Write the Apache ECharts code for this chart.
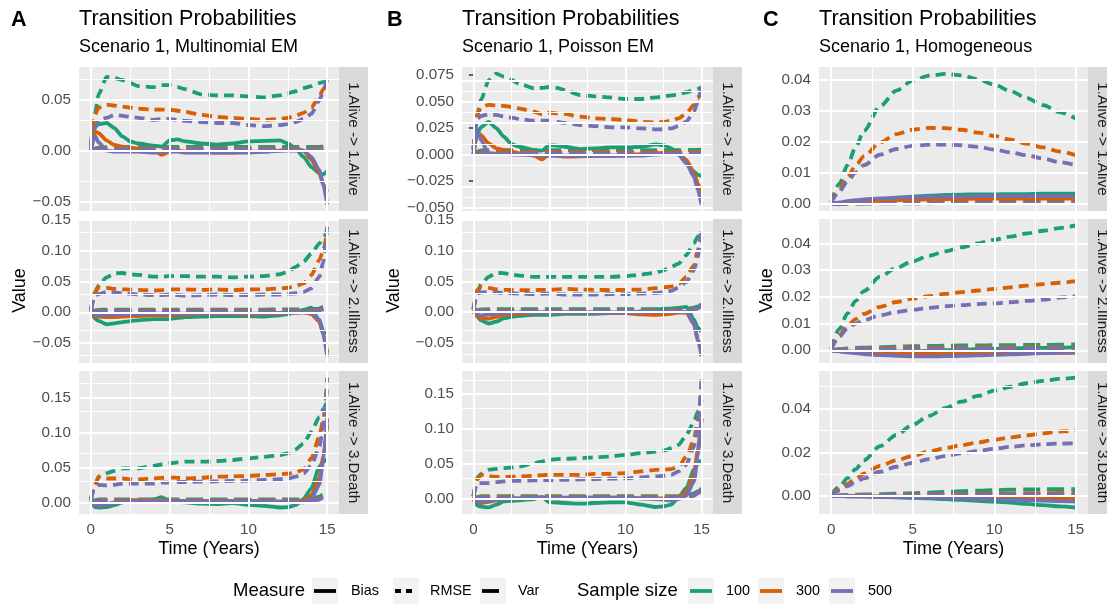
<!DOCTYPE html>
<html><head><meta charset="utf-8">
<script src="https://cdn.jsdelivr.net/npm/echarts@6/dist/echarts.min.js"></script>
<style>html,body{margin:0;padding:0;background:#fff}#c{width:1107px;height:605px}</style>
</head><body><div id="c"></div>
<script>
// ---------- categories / axes ----------
const tEM  = [0, 0.25, 0.5, 1, 1.5, 2, 2.5, 3, 4, 4.5, 5, 5.5, 6, 7, 8, 9, 10, 11, 12, 12.5, 13, 13.5, 14, 14.5, 14.75, 15];
const tHom = [0, 0.5, 1, 1.5, 2, 3, 4, 5, 6, 7, 8, 9, 10, 11, 12, 13, 14, 15];
const sampleSizes = ['100', '300', '500'];
const measures = ['Bias', 'RMSE', 'Var'];
const panelTags = ['A', 'B', 'C'];
const panelTitles = ['Transition Probabilities', 'Transition Probabilities', 'Transition Probabilities'];
const panelSubtitles = ['Scenario 1, Multinomial EM', 'Scenario 1, Poisson EM', 'Scenario 1, Homogeneous'];
const transitions = ['1.Alive -> 1.Alive', '1.Alive -> 2.Illness', '1.Alive -> 3.Death'];
const xTicks = [0, 5, 10, 15];
const A1_yTicks = [-0.05, 0, 0.05];
const A2_yTicks = [-0.05, 0, 0.05, 0.10, 0.15];
const A3_yTicks = [0, 0.05, 0.10, 0.15];
const B1_yTicks = [-0.05, -0.025, 0, 0.025, 0.05, 0.075];
const B2_yTicks = [-0.05, 0, 0.05, 0.10, 0.15];
const B3_yTicks = [0, 0.05, 0.10, 0.15];
const C1_yTicks = [0, 0.01, 0.02, 0.03, 0.04];
const C2_yTicks = [0, 0.01, 0.02, 0.03, 0.04];
const C3_yTicks = [0, 0.02, 0.04];

// ---------- series values: [n=100, n=300, n=500] ----------
// Panel A, 1.Alive -> 1.Alive
const A1_Bias = [
 [0, 0.023, 0.026, 0.027, 0.022, 0.014, 0.009, 0.007, 0.005, 0.004, 0.010, 0.011, 0.009, 0.007, 0.006, 0.007, 0.009, 0.0095, 0.010, 0.007, 0.002, -0.006, -0.016, -0.022, -0.023, -0.020],
 [0, 0.019, 0.017, 0.010, 0.0056, 0.004, 0.003, 0.002, 0.0, -0.004, -0.001, 0.0, -0.001, -0.001, -0.002, -0.002, -0.001, -0.001, 0.0, 0.001, 0.002, 0.0, -0.009, -0.022, -0.033, -0.040],
 [0, 0.015, 0.008, 0.0, -0.001, -0.001, -0.001, -0.001, -0.002, -0.001, -0.001, -0.001, -0.002, -0.002, -0.002, -0.002, -0.002, -0.001, 0.0, 0.0, 0.0, 0.0, -0.006, -0.019, -0.033, -0.0525]];
const A1_RMSE = [
 [0.005, 0.035, 0.055, 0.072, 0.071, 0.069, 0.066, 0.063, 0.062, 0.064, 0.064, 0.062, 0.060, 0.055, 0.054, 0.054, 0.053, 0.052, 0.054, 0.056, 0.058, 0.061, 0.063, 0.066, 0.067, 0.069],
 [0.005, 0.035, 0.042, 0.045, 0.044, 0.043, 0.042, 0.041, 0.040, 0.040, 0.040, 0.039, 0.038, 0.035, 0.033, 0.032, 0.031, 0.030, 0.031, 0.032, 0.034, 0.037, 0.042, 0.053, 0.060, 0.067],
 [0.005, 0.022, 0.030, 0.032, 0.035, 0.034, 0.033, 0.032, 0.030, 0.031, 0.031, 0.030, 0.029, 0.028, 0.027, 0.027, 0.025, 0.024, 0.025, 0.026, 0.028, 0.031, 0.036, 0.049, 0.058, 0.070]];
const A1_Var = [
 [0, 0.002, 0.003, 0.0035, 0.0036, 0.0036, 0.0036, 0.0036, 0.0036, 0.0036, 0.0036, 0.0036, 0.0036, 0.0036, 0.0036, 0.0036, 0.0036, 0.0036, 0.0036, 0.0036, 0.0036, 0.0036, 0.0037, 0.0038, 0.0039, 0.0040],
 [0, 0.0015, 0.002, 0.0022, 0.0022, 0.0022, 0.0022, 0.0022, 0.0022, 0.0022, 0.0022, 0.0022, 0.0022, 0.0022, 0.0022, 0.0022, 0.0022, 0.0022, 0.0022, 0.0022, 0.0022, 0.0022, 0.0023, 0.0024, 0.0025, 0.0026],
 [0, 0.001, 0.0013, 0.0014, 0.0014, 0.0014, 0.0014, 0.0014, 0.0014, 0.0014, 0.0014, 0.0014, 0.0014, 0.0014, 0.0014, 0.0014, 0.0014, 0.0014, 0.0014, 0.0014, 0.0014, 0.0015, 0.0015, 0.0016, 0.0016, 0.0017]];
// Panel A, 1.Alive -> 2.Illness
const A2_Bias = [
 [0.004, -0.010, -0.014, -0.0195, -0.018, -0.016, -0.0145, -0.013, -0.011, -0.011, -0.011, -0.009, -0.008, -0.007, -0.006, -0.006, -0.006, -0.007, -0.005, -0.003, 0.000, 0.004, 0.0076, -0.014, -0.030, -0.035],
 [0, -0.006, -0.007, -0.008, -0.008, -0.007, -0.006, -0.006, -0.005, -0.005, -0.005, -0.004, -0.004, -0.003, -0.003, -0.003, -0.004, -0.003, -0.002, -0.001, -0.001, 0.0, -0.003, -0.015, -0.035, -0.065],
 [0.010, -0.004, -0.005, -0.004, -0.004, -0.003, -0.003, -0.003, -0.002, -0.002, -0.002, -0.002, -0.002, -0.002, -0.002, -0.002, -0.002, -0.002, -0.001, -0.001, 0.0, 0.0, -0.001, -0.012, -0.035, -0.072]];
const A2_RMSE = [
 [0.004, 0.032, 0.044, 0.057, 0.0635, 0.064, 0.062, 0.061, 0.058, 0.058, 0.059, 0.059, 0.059, 0.058, 0.058, 0.057, 0.058, 0.059, 0.062, 0.066, 0.074, 0.0825, 0.096, 0.112, 0.121, 0.131],
 [0.004, 0.031, 0.041, 0.040, 0.038, 0.0375, 0.037, 0.0365, 0.0355, 0.036, 0.0375, 0.0375, 0.0375, 0.0365, 0.0375, 0.036, 0.0375, 0.0375, 0.039, 0.040, 0.0425, 0.047, 0.0605, 0.085, 0.101, 0.131],
 [0.004, 0.0265, 0.030, 0.033, 0.032, 0.031, 0.030, 0.029, 0.028, 0.028, 0.029, 0.028, 0.027, 0.028, 0.029, 0.028, 0.028, 0.029, 0.029, 0.030, 0.031, 0.033, 0.039, 0.058, 0.082, 0.141]];
const A2_Var = [
 [0, 0.003, 0.004, 0.0045, 0.0045, 0.0045, 0.0045, 0.0045, 0.0045, 0.0045, 0.0045, 0.0045, 0.0045, 0.0045, 0.0045, 0.0045, 0.0045, 0.0045, 0.0046, 0.0047, 0.0048, 0.0049, 0.005, 0.006, 0.009, 0.015],
 [0, 0.002, 0.0025, 0.003, 0.003, 0.003, 0.003, 0.003, 0.003, 0.003, 0.003, 0.003, 0.003, 0.003, 0.003, 0.003, 0.003, 0.003, 0.003, 0.003, 0.003, 0.003, 0.003, 0.004, 0.006, 0.012],
 [0, 0.0015, 0.002, 0.002, 0.002, 0.002, 0.002, 0.002, 0.002, 0.002, 0.002, 0.002, 0.002, 0.002, 0.002, 0.002, 0.002, 0.002, 0.002, 0.002, 0.002, 0.002, 0.002, 0.003, 0.005, 0.013]];
// Panel A, 1.Alive -> 3.Death
const A3_Bias = [
 [0.003, -0.007, -0.0074, -0.007, -0.004, 0.0, 0.001, 0.001, 0.004, 0.0075, 0.001, 0.0005, 0.0, -0.002, -0.0024, -0.001, -0.0036, -0.005, -0.0074, -0.007, -0.004, 0.005, 0.020, 0.051, 0.058, 0.062],
 [0, -0.004, -0.005, -0.003, 0.0, 0.002, 0.003, 0.003, 0.003, 0.003, 0.002, 0.002, 0.002, 0.002, 0.002, 0.002, 0.001, 0.001, 0.001, 0.001, 0.0, 0.002, 0.010, 0.035, 0.065, 0.110],
 [0.006, -0.005, -0.004, -0.003, -0.001, 0.0, 0.001, 0.002, 0.002, 0.002, 0.002, 0.002, 0.002, 0.002, 0.002, 0.002, 0.002, 0.002, 0.001, 0.001, 0.0, 0.0, 0.005, 0.025, 0.060, 0.120]];
const A3_RMSE = [
 [0.004, 0.022, 0.0366, 0.0414, 0.045, 0.0486, 0.0486, 0.0486, 0.052, 0.054, 0.0557, 0.057, 0.058, 0.058, 0.059, 0.0604, 0.0628, 0.065, 0.0676, 0.070, 0.0757, 0.084, 0.101, 0.122, 0.133, 0.144],
 [0.004, 0.0247, 0.0366, 0.034, 0.034, 0.034, 0.033, 0.0329, 0.034, 0.035, 0.0353, 0.035, 0.034, 0.035, 0.0366, 0.037, 0.0376, 0.039, 0.040, 0.041, 0.0426, 0.047, 0.063, 0.094, 0.118, 0.163],
 [0.004, 0.022, 0.025, 0.024, 0.025, 0.0267, 0.0267, 0.0267, 0.0267, 0.028, 0.028, 0.029, 0.029, 0.0295, 0.030, 0.0305, 0.031, 0.032, 0.033, 0.034, 0.0366, 0.0414, 0.053, 0.079, 0.108, 0.178]];
const A3_Var = [
 [0, 0.003, 0.004, 0.004, 0.004, 0.004, 0.004, 0.004, 0.004, 0.004, 0.004, 0.004, 0.004, 0.004, 0.004, 0.004, 0.004, 0.004, 0.004, 0.004, 0.004, 0.0042, 0.005, 0.008, 0.011, 0.014],
 [0, 0.002, 0.003, 0.003, 0.003, 0.003, 0.003, 0.003, 0.003, 0.003, 0.003, 0.003, 0.003, 0.003, 0.003, 0.003, 0.003, 0.003, 0.003, 0.003, 0.003, 0.003, 0.003, 0.005, 0.008, 0.011],
 [0, 0.0015, 0.002, 0.002, 0.002, 0.002, 0.002, 0.002, 0.002, 0.002, 0.002, 0.002, 0.002, 0.002, 0.002, 0.002, 0.002, 0.002, 0.002, 0.002, 0.002, 0.002, 0.002, 0.004, 0.007, 0.013]];
// Panel B, 1.Alive -> 1.Alive
const B1_Bias = [
 [0, 0.020, 0.026, 0.031, 0.025, 0.017, 0.010, 0.0075, 0.0044, 0.0038, 0.009, 0.0085, 0.0075, 0.0053, 0.006, 0.0069, 0.0069, 0.0075, 0.0097, 0.009, 0.006, 0.0, -0.0081, -0.016, -0.019, -0.020],
 [0, 0.0217, 0.0184, 0.0107, 0.006, 0.0044, 0.003, 0.0013, -0.0009, -0.0044, 0.0006, -0.001, -0.0019, -0.0015, -0.0012, -0.001, -0.0003, 0.0005, 0.0013, 0.0018, 0.002, 0.0013, -0.005, -0.0175, -0.027, -0.036],
 [0, 0.023, 0.0138, 0.0013, 0.001, 0.0006, 0.0003, 0.0, -0.0005, -0.0008, -0.001, -0.001, -0.001, -0.001, -0.0012, -0.001, -0.001, -0.0008, 0.0, 0.0008, 0.0013, 0.0, -0.008, -0.021, -0.033, -0.047]];
const B1_RMSE = [
 [0.005, 0.0375, 0.0516, 0.070, 0.0765, 0.0736, 0.0705, 0.067, 0.0626, 0.063, 0.064, 0.063, 0.061, 0.0563, 0.055, 0.054, 0.0525, 0.0525, 0.054, 0.055, 0.056, 0.057, 0.0589, 0.061, 0.062, 0.0636],
 [0.005, 0.0375, 0.045, 0.047, 0.0465, 0.046, 0.045, 0.0437, 0.0405, 0.038, 0.0396, 0.039, 0.0384, 0.0359, 0.0343, 0.0337, 0.0327, 0.0311, 0.0305, 0.031, 0.032, 0.0343, 0.039, 0.047, 0.053, 0.061],
 [0.005, 0.034, 0.0365, 0.038, 0.0375, 0.036, 0.035, 0.0337, 0.032, 0.032, 0.032, 0.031, 0.030, 0.028, 0.027, 0.0258, 0.0258, 0.0249, 0.0239, 0.024, 0.0249, 0.027, 0.0312, 0.0406, 0.050, 0.0643]];
const B1_Var = [
 [0, 0.003, 0.004, 0.0044, 0.0044, 0.0044, 0.0044, 0.0044, 0.0044, 0.0044, 0.0044, 0.0044, 0.0044, 0.0044, 0.0044, 0.0044, 0.0044, 0.0044, 0.0044, 0.0044, 0.0044, 0.0044, 0.0044, 0.0045, 0.0046, 0.0047],
 [0, 0.002, 0.0024, 0.0025, 0.0025, 0.0025, 0.0025, 0.0025, 0.0025, 0.0025, 0.0025, 0.0025, 0.0025, 0.0025, 0.0025, 0.0025, 0.0025, 0.0025, 0.0025, 0.0025, 0.0025, 0.0025, 0.0026, 0.0027, 0.0028, 0.0029],
 [0, 0.001, 0.0012, 0.0013, 0.0013, 0.0013, 0.0013, 0.0013, 0.0013, 0.0013, 0.0013, 0.0013, 0.0013, 0.0013, 0.0013, 0.0013, 0.0013, 0.0013, 0.0013, 0.0013, 0.0013, 0.0013, 0.0014, 0.0015, 0.0016, 0.0017]];
// Panel B, 1.Alive -> 2.Illness
const B2_Bias = [
 [0.003, -0.008, -0.014, -0.019, -0.016, -0.0105, -0.008, -0.0065, -0.005, -0.005, -0.005, -0.004, -0.003, -0.003, -0.003, -0.002, -0.0015, 0.001, 0.004, 0.005, 0.0055, 0.0066, 0.0083, -0.0125, -0.026, -0.032],
 [0, -0.007, -0.010, -0.011, -0.008, -0.005, -0.004, -0.003, -0.002, -0.001, -0.001, -0.001, -0.001, -0.001, -0.001, -0.0015, -0.002, -0.004, -0.005, -0.004, -0.003, -0.001, -0.001, -0.020, -0.045, -0.065],
 [0.012, -0.004, -0.006, -0.004, -0.003, -0.002, -0.0015, -0.001, -0.001, -0.001, -0.001, -0.001, -0.001, -0.001, -0.001, -0.001, -0.001, -0.001, -0.0005, 0.0, 0.0, 0.0, 0.0, -0.020, -0.045, -0.073]];
const B2_RMSE = [
 [0.004, 0.030, 0.0454, 0.0574, 0.064, 0.0633, 0.061, 0.0595, 0.0574, 0.0574, 0.0574, 0.0574, 0.0574, 0.0574, 0.0574, 0.0574, 0.0585, 0.061, 0.064, 0.068, 0.0738, 0.079, 0.093, 0.112, 0.123, 0.134],
 [0.004, 0.0356, 0.0415, 0.0393, 0.037, 0.036, 0.0358, 0.0356, 0.0356, 0.036, 0.036, 0.037, 0.0377, 0.0366, 0.036, 0.0356, 0.036, 0.0366, 0.0388, 0.040, 0.0415, 0.046, 0.0574, 0.0765, 0.101, 0.123],
 [0.004, 0.030, 0.032, 0.033, 0.032, 0.031, 0.0305, 0.030, 0.029, 0.0295, 0.030, 0.029, 0.0285, 0.0285, 0.0285, 0.029, 0.029, 0.030, 0.031, 0.032, 0.0344, 0.040, 0.049, 0.068, 0.090, 0.141]];
const B2_Var = [
 [0, 0.003, 0.004, 0.0044, 0.0044, 0.0044, 0.0044, 0.0044, 0.0044, 0.0044, 0.0044, 0.0044, 0.0044, 0.0044, 0.0044, 0.0044, 0.0044, 0.0044, 0.0045, 0.0046, 0.0047, 0.0048, 0.005, 0.007, 0.009, 0.012],
 [0, 0.002, 0.0025, 0.0025, 0.0025, 0.0025, 0.0025, 0.0025, 0.0025, 0.0025, 0.0025, 0.0025, 0.0025, 0.0025, 0.0025, 0.0025, 0.0025, 0.0025, 0.0025, 0.0025, 0.0026, 0.0027, 0.003, 0.004, 0.006, 0.010],
 [0, 0.0012, 0.0015, 0.0015, 0.0015, 0.0015, 0.0015, 0.0015, 0.0015, 0.0015, 0.0015, 0.0015, 0.0015, 0.0015, 0.0015, 0.0015, 0.0015, 0.0015, 0.0015, 0.0015, 0.0015, 0.0016, 0.002, 0.003, 0.006, 0.0137]];
// Panel B, 1.Alive -> 3.Death
const B3_Bias = [
 [0, -0.009, -0.011, -0.012, -0.008, -0.0033, -0.0025, -0.0019, 0.0, 0.003, -0.0047, -0.005, -0.0057, -0.0066, -0.0057, -0.0047, -0.0047, -0.008, -0.0114, -0.0104, -0.008, 0.003, 0.0157, 0.042, 0.051, 0.055],
 [0, -0.004, -0.006, -0.004, -0.002, 0.0, 0.001, 0.001, 0.002, 0.002, 0.001, 0.001, 0.001, 0.002, 0.002, 0.002, 0.002, 0.001, 0.001, 0.001, 0.0, 0.001, 0.010, 0.035, 0.070, 0.115],
 [0.007, -0.004, -0.004, -0.003, -0.001, 0.0, 0.001, 0.001, 0.002, 0.002, 0.002, 0.002, 0.002, 0.002, 0.002, 0.002, 0.002, 0.001, 0.0, -0.001, -0.002, 0.0, 0.005, 0.025, 0.060, 0.115]];
const B3_RMSE = [
 [0.004, 0.030, 0.036, 0.0417, 0.043, 0.044, 0.045, 0.0464, 0.051, 0.0535, 0.056, 0.057, 0.0574, 0.0583, 0.0597, 0.0607, 0.063, 0.0654, 0.0678, 0.069, 0.0726, 0.0774, 0.0916, 0.110, 0.125, 0.142],
 [0.004, 0.0275, 0.0346, 0.0322, 0.0315, 0.0313, 0.0318, 0.0322, 0.0332, 0.034, 0.0346, 0.0346, 0.0346, 0.0346, 0.036, 0.036, 0.037, 0.0394, 0.0417, 0.042, 0.0427, 0.0465, 0.0607, 0.0845, 0.113, 0.151],
 [0.004, 0.0228, 0.0228, 0.0228, 0.024, 0.0252, 0.026, 0.026, 0.0266, 0.027, 0.027, 0.0272, 0.0275, 0.028, 0.0285, 0.029, 0.0294, 0.031, 0.0322, 0.033, 0.0346, 0.0394, 0.049, 0.075, 0.104, 0.1735]];
const B3_Var = [
 [0, 0.003, 0.004, 0.004, 0.004, 0.004, 0.004, 0.004, 0.004, 0.004, 0.004, 0.004, 0.004, 0.004, 0.004, 0.004, 0.004, 0.004, 0.004, 0.004, 0.004, 0.0042, 0.005, 0.008, 0.011, 0.014],
 [0, 0.002, 0.003, 0.003, 0.003, 0.003, 0.003, 0.003, 0.003, 0.003, 0.003, 0.003, 0.003, 0.003, 0.003, 0.003, 0.003, 0.003, 0.003, 0.003, 0.003, 0.003, 0.003, 0.005, 0.008, 0.011],
 [0, 0.0015, 0.002, 0.002, 0.002, 0.002, 0.002, 0.002, 0.002, 0.002, 0.002, 0.002, 0.002, 0.002, 0.002, 0.002, 0.002, 0.002, 0.002, 0.002, 0.002, 0.002, 0.003, 0.005, 0.009, 0.0157]];
// Panel C, 1.Alive -> 1.Alive
const C1_Bias = [
 [0, -0.00015, 0.0003, 0.0007, 0.001, 0.0015, 0.002, 0.0024, 0.0027, 0.0029, 0.003, 0.0031, 0.0031, 0.0032, 0.0032, 0.0033, 0.0033, 0.0033],
 [0, 0.0002, 0.0004, 0.0006, 0.0008, 0.001, 0.0012, 0.0014, 0.0015, 0.0016, 0.0016, 0.0017, 0.0017, 0.0017, 0.0017, 0.0017, 0.0017, 0.0017],
 [0, 0.0005, 0.0009, 0.0012, 0.0015, 0.0018, 0.002, 0.0022, 0.0023, 0.0024, 0.0024, 0.0025, 0.0025, 0.0025, 0.0025, 0.0025, 0.0025, 0.0025]];
const C1_RMSE = [
 [0.0006, 0.0065, 0.0125, 0.0183, 0.0235, 0.0315, 0.0365, 0.0397, 0.0413, 0.0419, 0.0414, 0.0401, 0.0384, 0.0363, 0.0341, 0.0318, 0.0296, 0.0275],
 [0.0005, 0.0048, 0.0088, 0.0123, 0.0153, 0.0198, 0.0225, 0.0239, 0.0245, 0.0244, 0.0239, 0.0230, 0.0219, 0.0207, 0.0194, 0.0182, 0.0169, 0.0157],
 [0.0004, 0.0040, 0.0073, 0.0101, 0.0125, 0.0159, 0.0177, 0.0187, 0.0191, 0.0191, 0.0189, 0.0184, 0.0175, 0.0166, 0.0157, 0.0146, 0.0135, 0.0125]];
const C1_Var = [
 [0, 0.0001, 0.0002, 0.0003, 0.0004, 0.0005, 0.0006, 0.0007, 0.0008, 0.0008, 0.0009, 0.0009, 0.001, 0.001, 0.001, 0.001, 0.001, 0.001],
 [0, 0.0001, 0.0001, 0.0002, 0.0002, 0.0003, 0.0003, 0.0004, 0.0004, 0.0004, 0.0005, 0.0005, 0.0005, 0.0005, 0.0005, 0.0005, 0.0005, 0.0005],
 [0, 0, 0.0001, 0.0001, 0.0001, 0.0002, 0.0002, 0.0002, 0.0002, 0.0003, 0.0003, 0.0003, 0.0003, 0.0003, 0.0003, 0.0003, 0.0003, 0.0003]];
// Panel C, 1.Alive -> 2.Illness
const C2_Bias = [
 [0, -0.0003, -0.0005, -0.0006, -0.0006, -0.0006, -0.0005, -0.0004, -0.0002, 0.0, 0.0002, 0.0004, 0.0005, 0.0007, 0.0008, 0.0009, 0.001, 0.0012],
 [0, -0.0003, -0.0005, -0.0007, -0.0008, -0.001, -0.0011, -0.0012, -0.0012, -0.0012, -0.0012, -0.0012, -0.0012, -0.0011, -0.0011, -0.001, -0.001, -0.001],
 [0, -0.0004, -0.0008, -0.0011, -0.0014, -0.0018, -0.0021, -0.0023, -0.0023, -0.0022, -0.0021, -0.0019, -0.0017, -0.0015, -0.0013, -0.0011, -0.0009, -0.0007]];
const C2_RMSE = [
 [0.0005, 0.008, 0.0138, 0.0185, 0.0222, 0.0276, 0.0309, 0.0334, 0.0354, 0.0371, 0.0386, 0.0401, 0.0414, 0.0426, 0.0438, 0.0448, 0.0458, 0.0468],
 [0.0004, 0.0058, 0.0092, 0.0117, 0.0136, 0.0163, 0.0181, 0.0194, 0.0203, 0.0211, 0.0218, 0.0224, 0.023, 0.0236, 0.0242, 0.0248, 0.0253, 0.0259],
 [0.0004, 0.0052, 0.0082, 0.0100, 0.0113, 0.0131, 0.0143, 0.0152, 0.0159, 0.0165, 0.0169, 0.0173, 0.0176, 0.018, 0.0185, 0.019, 0.0197, 0.0203]];
const C2_Var = [
 [0, 0.0004, 0.0007, 0.0009, 0.001, 0.0012, 0.0014, 0.0015, 0.0016, 0.0017, 0.0018, 0.0018, 0.0019, 0.0019, 0.002, 0.002, 0.0021, 0.0022],
 [0, 0.0003, 0.0005, 0.0006, 0.0007, 0.0008, 0.0009, 0.001, 0.001, 0.0011, 0.0011, 0.0011, 0.0012, 0.0012, 0.0012, 0.0012, 0.0012, 0.0012],
 [0, 0.0002, 0.0003, 0.0004, 0.0004, 0.0005, 0.0005, 0.0006, 0.0006, 0.0006, 0.0007, 0.0007, 0.0007, 0.0007, 0.0007, 0.0008, 0.0008, 0.0008]];
// Panel C, 1.Alive -> 3.Death
const C3_Bias = [
 [0, 0, -0.0001, -0.0001, -0.0002, -0.0004, -0.0006, -0.0008, -0.0011, -0.0014, -0.0018, -0.0022, -0.0026, -0.003, -0.0036, -0.0042, -0.0047, -0.00525],
 [0, 0, 0, -0.0001, -0.0001, -0.0002, -0.0003, -0.0003, -0.0004, -0.0005, -0.0005, -0.0006, -0.0007, -0.0007, -0.0008, -0.0009, -0.0009, -0.001],
 [0, 0, -0.0001, -0.0001, -0.0002, -0.0003, -0.0005, -0.0006, -0.0008, -0.0009, -0.0011, -0.0013, -0.0015, -0.0017, -0.0019, -0.0021, -0.0023, -0.0025]];
const C3_RMSE = [
 [0.0005, 0.0042, 0.0082, 0.0123, 0.0163, 0.0228, 0.028, 0.0326, 0.0367, 0.0402, 0.0432, 0.0458, 0.0482, 0.050, 0.0516, 0.0527, 0.0536, 0.0542],
 [0.0004, 0.003, 0.0056, 0.008, 0.0102, 0.0138, 0.0163, 0.0184, 0.0204, 0.0219, 0.0233, 0.0245, 0.0257, 0.0268, 0.0278, 0.0287, 0.0295, 0.030],
 [0.0004, 0.0025, 0.0045, 0.0064, 0.0081, 0.0111, 0.0134, 0.0152, 0.0169, 0.0183, 0.0195, 0.0206, 0.0216, 0.0225, 0.0232, 0.0237, 0.024, 0.0241]];
const C3_Var = [
 [0, 0.0003, 0.0005, 0.0006, 0.0007, 0.0009, 0.0011, 0.0013, 0.0016, 0.0019, 0.0022, 0.0025, 0.0027, 0.0029, 0.003, 0.0031, 0.0032, 0.0032],
 [0, 0.0002, 0.0003, 0.0004, 0.0004, 0.0005, 0.0006, 0.0007, 0.0008, 0.0009, 0.001, 0.0011, 0.0012, 0.0012, 0.0013, 0.0013, 0.0014, 0.0014],
 [0, 0.0001, 0.0002, 0.0002, 0.0003, 0.0003, 0.0004, 0.0004, 0.0005, 0.0005, 0.0006, 0.0006, 0.0007, 0.0007, 0.0007, 0.0008, 0.0008, 0.0008]];

// ---------- styling / layout ----------
const COLORS = ['#1B9E77', '#D95F02', '#7570B3'];
const DASH = { Bias: 'solid', RMSE: [10, 6], Var: [17, 7] };
const LINE_W = 3.8;
const FONT = '"Liberation Sans", Arial, Helvetica, sans-serif';
const cols = [{ left: 79, width: 260 }, { left: 462, width: 251 }, { left: 819, width: 269 }];
const rows = [{ top: 67, height: 144 }, { top: 219, height: 144 }, { top: 371, height: 143 }];
const STRIP_W = 29;

const facets = [
 { col: 0, row: 0, t: tEM, d: { Bias: A1_Bias, RMSE: A1_RMSE, Var: A1_Var }, ticks: A1_yTicks, range: [-0.0589, 0.0817], dec: 2, smooth: 0.2 },
 { col: 0, row: 1, t: tEM, d: { Bias: A2_Bias, RMSE: A2_RMSE, Var: A2_Var }, ticks: A2_yTicks, range: [-0.0826, 0.152], dec: 2, smooth: 0.2 },
 { col: 0, row: 2, t: tEM, d: { Bias: A3_Bias, RMSE: A3_RMSE, Var: A3_Var }, ticks: A3_yTicks, range: [-0.0167, 0.1876], dec: 2, smooth: 0.2 },
 { col: 1, row: 0, t: tEM, d: { Bias: B1_Bias, RMSE: B1_RMSE, Var: B1_Var }, ticks: B1_yTicks, range: [-0.0531, 0.0827], dec: 3, smooth: 0.2 },
 { col: 1, row: 1, t: tEM, d: { Bias: B2_Bias, RMSE: B2_RMSE, Var: B2_Var }, ticks: B2_yTicks, range: [-0.0836, 0.152], dec: 2, smooth: 0.2 },
 { col: 1, row: 2, t: tEM, d: { Bias: B3_Bias, RMSE: B3_RMSE, Var: B3_Var }, ticks: B3_yTicks, range: [-0.0214, 0.1828], dec: 2, smooth: 0.2 },
 { col: 2, row: 0, t: tHom, d: { Bias: C1_Bias, RMSE: C1_RMSE, Var: C1_Var }, ticks: C1_yTicks, range: [-0.00226, 0.0441], dec: 2, smooth: 0.3 },
 { col: 2, row: 1, t: tHom, d: { Bias: C2_Bias, RMSE: C2_RMSE, Var: C2_Var }, ticks: C2_yTicks, range: [-0.00477, 0.0492], dec: 2, smooth: 0.3 },
 { col: 2, row: 2, t: tHom, d: { Bias: C3_Bias, RMSE: C3_RMSE, Var: C3_Var }, ticks: C3_yTicks, range: [-0.00822, 0.0572], dec: 2, smooth: 0.3 }
];

function fmt(v, dec) {
  const s = Math.abs(v).toFixed(dec);
  return (v < -1e-12 ? '\u2212' : '') + s;
}
function minorOf(ticks, lo, hi) {
  const st = ticks[1] - ticks[0], out = [];
  for (let k = -3; k < ticks.length + 3; k++) {
    const v = ticks[0] + st * (k + 0.5);
    if (v >= lo && v <= hi) out.push(+v.toFixed(6));
  }
  return out;
}

const grids = [], xAxes = [], yAxes = [], series = [], graphics = [];
const XMIN = -0.75, XMAX = 15.75;

facets.forEach((f, i) => {
  const c = cols[f.col], r = rows[f.row];
  const bottom = f.row === 2;
  grids.push({ left: c.left, top: r.top, width: c.width, height: r.height, show: true,
    backgroundColor: '#EBEBEB', borderWidth: 0, containLabel: false, outerBoundsMode: 'none' });
  xAxes.push({ type: 'value', gridIndex: i, min: XMIN, max: XMAX,
    axisLine: { show: false }, splitLine: { show: false }, minorTick: { show: false },
    axisTick: { show: bottom, customValues: xTicks, length: 4.5, lineStyle: { color: '#333333', width: 1.5 } },
    axisLabel: { show: bottom, customValues: xTicks, color: '#4D4D4D', fontSize: 15.2, fontFamily: FONT, margin: 8,
      formatter: v => String(v) } });
  yAxes.push({ type: 'value', gridIndex: i, min: f.range[0], max: f.range[1],
    axisLine: { show: false }, splitLine: { show: false },
    axisTick: { show: true, customValues: f.ticks, length: 4.5, lineStyle: { color: '#333333', width: 1.5 } },
    axisLabel: { show: true, customValues: f.ticks, color: '#4D4D4D', fontSize: 15.2, fontFamily: FONT, margin: 8,
      formatter: v => fmt(v, f.dec) } });

  // panel grid lines (major + minor), drawn through the axes' scales
  const ml = [];
  minorOf(f.ticks, f.range[0], f.range[1]).forEach(v => ml.push({ yAxis: v, lineStyle: { color: '#FFFFFF', width: 1, type: 'solid' } }));
  minorOf(xTicks, XMIN, XMAX).forEach(v => ml.push({ xAxis: v, lineStyle: { color: '#FFFFFF', width: 1, type: 'solid' } }));
  f.ticks.forEach(v => ml.push({ yAxis: v, lineStyle: { color: '#FFFFFF', width: 2, type: 'solid' } }));
  xTicks.forEach(v => ml.push({ xAxis: v, lineStyle: { color: '#FFFFFF', width: 2, type: 'solid' } }));
  series.push({ type: 'line', name: 'grid' + i, xAxisIndex: i, yAxisIndex: i, data: [], z: 1, silent: true,
    markLine: { silent: true, symbol: ['none', 'none'], label: { show: false }, animation: false,
      emphasis: { disabled: true }, data: ml } });

  sampleSizes.forEach((s, si) => {
    measures.forEach(m => {
      const vals = f.d[m][si];
      series.push({ type: 'line', name: s + ' ' + m, xAxisIndex: i, yAxisIndex: i,
        data: f.t.map((x, k) => [x, vals[k]]),
        symbol: 'none', showSymbol: false, smooth: f.smooth, smoothMonotone: 'x', z: 2, silent: true,
        lineStyle: { color: COLORS[si], width: LINE_W, type: DASH[m], cap: 'butt', join: 'round' } });
    });
  });

  // facet strip on the right
  graphics.push({ type: 'rect', shape: { x: c.left + c.width, y: r.top, width: STRIP_W, height: r.height },
    style: { fill: '#D9D9D9' }, silent: true });
  graphics.push({ type: 'text', x: c.left + c.width + STRIP_W / 2, y: r.top + r.height / 2, rotation: -Math.PI / 2,
    style: { text: transitions[f.row], fill: '#1A1A1A', fontSize: 15.2, fontFamily: FONT,
      align: 'center', verticalAlign: 'middle', textAlign: 'center', textVerticalAlign: 'middle' }, silent: true });
});

// panel headings and axis titles
const valueX = [20, 394, 767];
const tagX = [11, 387, 763];
cols.forEach((c, k) => {
  graphics.push({ type: 'text', x: tagX[k], y: 20, style: { text: panelTags[k], fill: '#000', fontSize: 21.6, fontWeight: 'bold',
    fontFamily: FONT, align: 'left', verticalAlign: 'middle', textAlign: 'left', textVerticalAlign: 'middle' } });
  graphics.push({ type: 'text', x: c.left, y: 19.5, style: { text: panelTitles[k], fill: '#000', fontSize: 21.6,
    fontFamily: FONT, align: 'left', verticalAlign: 'middle', textAlign: 'left', textVerticalAlign: 'middle' } });
  graphics.push({ type: 'text', x: c.left, y: 47.3, style: { text: panelSubtitles[k], fill: '#000', fontSize: 18,
    fontFamily: FONT, align: 'left', verticalAlign: 'middle', textAlign: 'left', textVerticalAlign: 'middle' } });
  graphics.push({ type: 'text', x: c.left + c.width / 2, y: 549, style: { text: 'Time (Years)', fill: '#000', fontSize: 18,
    fontFamily: FONT, align: 'center', verticalAlign: 'middle', textAlign: 'center', textVerticalAlign: 'middle' } });
  graphics.push({ type: 'text', x: valueX[k], y: 290.5, rotation: Math.PI / 2, style: { text: 'Value', fill: '#000', fontSize: 18,
    fontFamily: FONT, align: 'center', verticalAlign: 'middle', textAlign: 'center', textVerticalAlign: 'middle' } });
});

// legend
const LY = 591;
function legendText(x, text, size) {
  graphics.push({ type: 'text', x: x, y: LY, style: { text: text, fill: '#000', fontSize: size, fontFamily: FONT,
    align: 'left', verticalAlign: 'middle', textAlign: 'left', textVerticalAlign: 'middle' } });
}
function legendKey(cx, color, dash) {
  graphics.push({ type: 'rect', shape: { x: cx - 13, y: LY - 13, width: 26, height: 26 }, style: { fill: '#F2F2F2' } });
  graphics.push({ type: 'line', shape: { x1: cx - 11, y1: LY, x2: cx + 11, y2: LY },
    style: { stroke: color, lineWidth: LINE_W, lineDash: dash === 'solid' ? null : dash, lineCap: 'butt' } });
}
legendText(233, 'Measure', 18.5);
const mKeyX = [325, 406, 493], mLabX = [351, 430, 518];
measures.forEach((m, k) => { legendKey(mKeyX[k], '#000000', m === 'RMSE' ? [6, 5] : DASH[m]); legendText(mLabX[k], m, 14.4); });
legendText(577, 'Sample size', 18.5);
const sKeyX = [701, 771, 842], sLabX = [726, 796, 868];
sampleSizes.forEach((s, k) => { legendKey(sKeyX[k], COLORS[k], 'solid'); legendText(sLabX[k], s, 14.4); });

const chart = echarts.init(document.getElementById('c'), null, { renderer: 'canvas' });
chart.setOption({
  animation: false,
  backgroundColor: '#FFFFFF',
  textStyle: { fontFamily: FONT },
  grid: grids, xAxis: xAxes, yAxis: yAxes, series: series,
  graphic: { elements: graphics }
});
</script></body></html>
